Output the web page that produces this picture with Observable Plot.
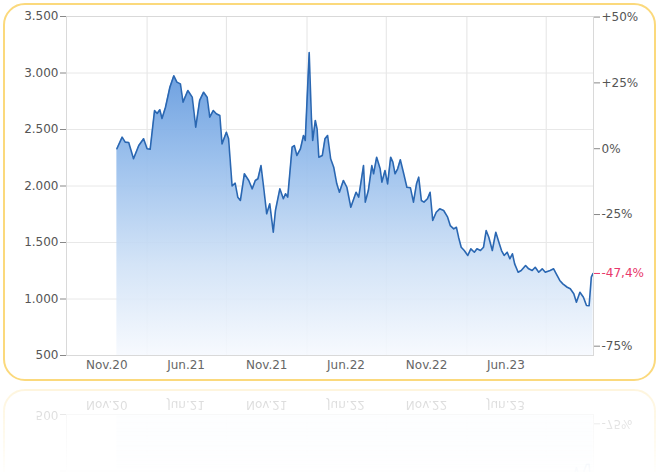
<!DOCTYPE html>
<html>
<head>
<meta charset="utf-8">
<script src="https://cdn.jsdelivr.net/npm/d3@7"></script>
<script src="https://cdn.jsdelivr.net/npm/@observablehq/plot@0.6"></script>
<style>
  html, body { margin: 0; padding: 0; background: #fff; }
  body { width: 659px; height: 472px; overflow: hidden; position: relative; font-family: "DejaVu Sans", Verdana, sans-serif; }
  .scene { position: absolute; left: 0; top: 0; width: 659px; height: 384px; }
  .card { position: absolute; left: 3px; top: 3px; width: 649px; height: 374px; border: 2px solid #fbd97c; border-radius: 22px; background: #fff; }
  .chart { position: absolute; left: 0; top: 0; }
  .reflwrap { position: absolute; left: 0; top: 385px; width: 659px; height: 87px; overflow: hidden; }
</style>
</head>
<body>
<div class="scene" id="scene">
  <div class="card"></div>
  <div class="chart" id="chart"></div>
</div>
<div class="reflwrap" id="reflwrap"></div>
<script>
// ---- data ----
const dates = [
  "2020-11-24","2020-12-06","2020-12-13","2020-12-21","2021-01-01","2021-01-13","2021-01-24","2021-02-01",
  "2021-02-08","2021-02-18","2021-02-24","2021-03-02","2021-03-07","2021-03-15","2021-03-25","2021-04-03",
  "2021-04-10","2021-04-18","2021-04-24","2021-05-05","2021-05-15","2021-05-23","2021-06-01","2021-06-10",
  "2021-06-18","2021-06-24","2021-07-02","2021-07-09","2021-07-17","2021-07-22","2021-08-01","2021-08-06",
  "2021-08-14","2021-08-21","2021-08-27","2021-09-02","2021-09-11","2021-09-21","2021-09-29","2021-10-06",
  "2021-10-12","2021-10-19","2021-10-25","2021-11-01","2021-11-08","2021-11-16","2021-11-21","2021-12-01",
  "2021-12-09","2021-12-14","2021-12-19","2021-12-29","2022-01-03","2022-01-09","2022-01-17","2022-01-24",
  "2022-01-28","2022-02-06","2022-02-11","2022-02-14","2022-02-20","2022-02-24","2022-02-28","2022-03-08",
  "2022-03-14","2022-03-20","2022-03-27","2022-04-03","2022-04-10","2022-04-16","2022-04-25","2022-05-03",
  "2022-05-12","2022-05-24","2022-05-30","2022-06-10","2022-06-14","2022-06-21","2022-06-29","2022-07-03",
  "2022-07-10","2022-07-18","2022-07-22","2022-07-29","2022-08-04","2022-08-11","2022-08-16","2022-08-21",
  "2022-08-27","2022-09-02","2022-09-09","2022-09-17","2022-09-25","2022-10-02","2022-10-09","2022-10-14",
  "2022-10-20","2022-10-26","2022-11-03","2022-11-09","2022-11-15","2022-11-23","2022-12-01","2022-12-10",
  "2022-12-19","2022-12-25","2023-01-02","2023-01-08","2023-01-13","2023-01-19","2023-01-26","2023-02-03",
  "2023-02-10","2023-02-18","2023-02-24","2023-03-04","2023-03-11","2023-03-17","2023-03-23","2023-03-31",
  "2023-04-08","2023-04-15","2023-04-21","2023-04-27","2023-05-04","2023-05-10","2023-05-16","2023-05-21",
  "2023-05-29","2023-06-05","2023-06-15","2023-06-22","2023-06-30","2023-07-07","2023-07-15","2023-07-23",
  "2023-07-30","2023-08-10","2023-08-18","2023-08-24","2023-09-01","2023-09-08","2023-09-18","2023-09-25",
  "2023-10-03","2023-10-09","2023-10-17","2023-10-25","2023-11-01","2023-11-07","2023-11-12","2023-11-16"
];
const prices = [
  2330,2432,2388,2385,2241,2358,2418,2329,
  2325,2668,2642,2675,2597,2697,2874,2975,
  2919,2904,2742,2845,2786,2520,2757,2830,
  2786,2609,2668,2639,2624,2373,2476,2418,
  2000,2025,1901,1872,2108,2049,1975,2049,
  2064,2181,1989,1754,1842,1591,1783,1975,
  1887,1931,1901,2343,2358,2270,2329,2447,
  2403,3180,2609,2403,2580,2506,2255,2270,
  2418,2447,2241,2166,2019,1945,2049,1989,
  1812,1945,1901,2181,1857,1960,2181,2108,
  2255,2152,2034,2137,2019,2255,2211,2108,
  2152,2232,2122,1989,1985,1857,2019,2078,
  1872,1857,1887,1945,1695,1768,1798,1783,
  1724,1650,1621,1635,1547,1458,1429,1385,
  1444,1414,1444,1429,1458,1606,1547,1429,
  1591,1503,1429,1385,1414,1356,1400,1311,
  1237,1252,1296,1267,1252,1281,1237,1267,
  1237,1252,1267,1223,1164,1134,1104,1090,
  1046,972,1060,1016,942,940,1193,1226
];
const xDomainDates = ["2020-08-01", "2023-11-17"];
const xLabelDates = ["2020-11-01","2021-05-01","2021-11-01","2022-05-01","2022-11-01","2023-05-01"];
const xLabels = ["Nov.20","Jun.21","Nov.21","Jun.22","Nov.22","Jun.23"];
const xGridDates = ["2021-02-01","2021-08-01","2022-02-01","2022-08-01","2023-02-01","2023-08-01"];
const leftTicks = [500, 1000, 1500, 2000, 2500, 3000, 3500];
const rightPct = [50, 25, 0, -25, -75];
const rightLabels = ["+50%", "+25%", "0%", "-25%", "-75%"];

// ---- build ----
const data = dates.map((d, i) => ({date: new Date(d), price: prices[i]}));
const base = prices[0];
const last = prices[prices.length - 1];
const lastPct = (last / base - 1) * 100;
const lastLabel = (lastPct > 0 ? "+" : "") + lastPct.toFixed(1).replace(".", ",") + "%";

const de = d3.formatLocale({decimal: ",", thousands: ".", grouping: [3], currency: ["", "€"]});
const fmtLeft = de.format(",.0f");

const xLabelMap = new Map(xLabelDates.map((d, i) => [+new Date(d), xLabels[i]]));
const rightValues = rightPct.map(p => base * (1 + p / 100));
const rightMap = new Map(rightValues.map((v, i) => [v, rightLabels[i]]));

const chart = Plot.plot({
  width: 659,
  height: 384,
  marginLeft: 66,
  marginRight: 66,
  marginTop: 16,
  marginBottom: 29,
  style: {fontFamily: "'DejaVu Sans', Verdana, sans-serif", fontSize: "12px", color: "#555", background: "transparent", overflow: "visible"},
  x: {type: "time", domain: xDomainDates.map(d => new Date(d)), axis: null, label: null},
  y: {domain: [500, 3500], axis: null, label: null},
  marks: [
    Plot.gridX(xGridDates.map(d => new Date(d)), {stroke: "#e4e4e4", strokeOpacity: 1}),
    Plot.gridY(leftTicks.slice(1, -1), {stroke: "#e8e8e8", strokeOpacity: 1}),
    Plot.areaY(data, {x: "date", y1: 500, y2: "price", fill: "url(#areaGrad)", curve: "linear"}),
    Plot.lineY(data, {x: "date", y: "price", stroke: "#2a67b2", strokeWidth: 1.6, curve: "linear"}),
    Plot.frame({stroke: "#d9d9d9"}),
    Plot.axisY(leftTicks, {anchor: "left", label: null, tickSize: 6, tickPadding: 2, tickFormat: fmtLeft, stroke: "#888", fill: "#555"}),
    Plot.axisY(rightValues, {anchor: "right", label: null, tickSize: 6, tickPadding: 2, tickFormat: d => rightMap.get(d), stroke: "#888", fill: "#555"}),
    Plot.axisY([last], {anchor: "right", label: null, tickSize: 6, tickPadding: 2, tickFormat: () => lastLabel, stroke: "#e8386b", fill: "#e8386b"}),
    Plot.axisX(xLabelDates.map(d => new Date(d)), {anchor: "bottom", label: null, tickSize: 0, tickPadding: 5, tickFormat: d => xLabelMap.get(+d), fill: "#666"})
  ]
});

d3.select(chart).insert("defs", ":first-child").html(
  `<linearGradient id="areaGrad" x1="0" y1="0" x2="0" y2="1">
     <stop offset="0" stop-color="#5a93db" stop-opacity="0.95"/>
     <stop offset="0.35" stop-color="#93bbeb" stop-opacity="0.92"/>
     <stop offset="0.7" stop-color="#cfe1f6" stop-opacity="0.9"/>
     <stop offset="1" stop-color="#f6f9fe" stop-opacity="0.9"/>
   </linearGradient>`
);
document.getElementById("chart").appendChild(chart);

// faint mirrored reflection under the card (only the part that is visible)
const scene = document.getElementById("scene");
const refl = scene.cloneNode(true);
refl.id = "reflection";
refl.setAttribute("aria-hidden", "true");
const origTexts = scene.querySelectorAll("text");
const cloneTexts = refl.querySelectorAll("text");
origTexts.forEach((t, i) => {
  const r = t.getBoundingClientRect();
  if (r.top < 330) cloneTexts[i].remove();
});
refl.style.top = "-385px";
refl.style.transformOrigin = "0 385px";
refl.style.transform = "scaleY(-1)";
refl.style.opacity = "0.26";
const mask = "linear-gradient(to top, rgba(0,0,0,1) 0%, rgba(0,0,0,0.55) 12%, rgba(0,0,0,0) 24%)";
refl.style.webkitMaskImage = mask;
refl.style.maskImage = mask;
document.getElementById("reflwrap").appendChild(refl);
</script>
</body>
</html>
